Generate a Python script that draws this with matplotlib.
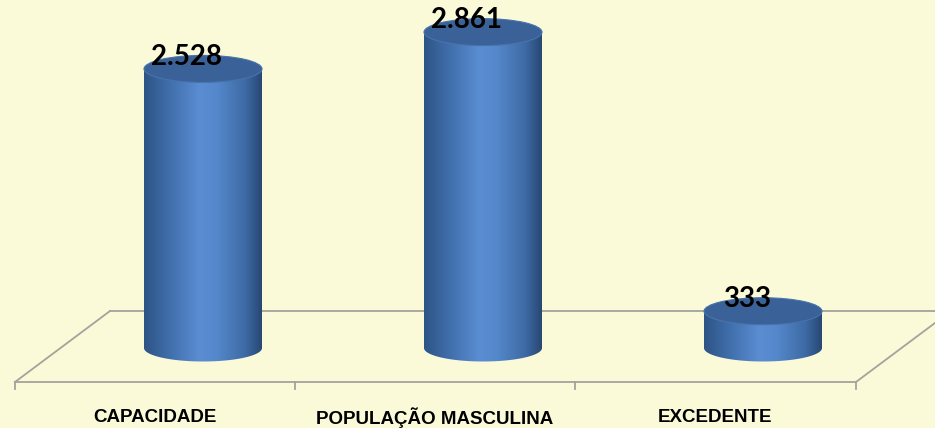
import numpy as np
import matplotlib
matplotlib.use("Agg")
import matplotlib.pyplot as plt
from matplotlib.patches import Ellipse, PathPatch
from matplotlib.path import Path
from matplotlib.colors import LinearSegmentedColormap

categories = ["CAPACIDADE", "POPULAÇÃO MASCULINA", "EXCEDENTE"]
values = [2528, 2861, 333]
value_labels = ["2.528", "2.861", "333"]

W, H = 935, 428
BG = "#FAFAD9"
fig = plt.figure(figsize=(W / 100, H / 100), dpi=100, facecolor=BG)
ax = fig.add_axes([0, 0, 1, 1])
ax.set_xlim(0, W)
ax.set_ylim(H, 0)
ax.axis("off")
ax.set_facecolor(BG)

# value scale (pixels per unit) and floor position
BASE = 348.0
SCALE = 0.1104
def vy(v):
    return BASE - v * SCALE

# floor
gray = "#A3A39C"
floor_front_y, floor_back_y = 382, 311
ax.plot([15, 856], [floor_front_y] * 2, color=gray, lw=1.3)
ax.plot([110, 940], [floor_back_y] * 2, color=gray, lw=1.3)
ax.plot([15, 110], [floor_front_y, floor_back_y], color=gray, lw=1.3)
ax.plot([856, 856 + 95], [floor_front_y, floor_back_y], color=gray, lw=1.3)
for tx in [15, 295, 575, 856]:
    ax.plot([tx, tx], [floor_front_y, 389], color=gray, lw=1.3)

cmap = LinearSegmentedColormap.from_list(
    "cyl",
    [(0.0, "#2D5485"), (0.18, "#3D6AA6"), (0.47, "#5A8DD2"),
     (0.62, "#5488CB"), (0.86, "#3E6AA5"), (1.0, "#284874")])

centers = [155 + 48, 435 + 48, 715 + 48]
bw = 118
ry = 13.5
grad = np.linspace(0, 1, 256).reshape(1, -1)

for i, (c, v) in enumerate(zip(centers, values)):
    x0, x1 = c - bw / 2, c + bw / 2
    yt = vy(v)
    yb = BASE
    t = np.linspace(np.pi, 0, 60)
    bx = c + (bw / 2) * np.cos(t)
    by = yb + ry * np.sin(t)
    verts = [(x0, yt)] + list(zip(bx, by)) + [(x1, yt), (x0, yt)]
    path = Path(verts, closed=True)
    patch = PathPatch(path, facecolor="none", edgecolor="none")
    ax.add_patch(patch)
    im = ax.imshow(grad, cmap=cmap, extent=[x0, x1, yb + ry + 1, yt - 1],
                   aspect="auto", zorder=2)
    im.set_clip_path(patch)
    top = Ellipse((c, yt), bw, 2 * ry, facecolor="#3A6298",
                  edgecolor="#4873AD", lw=0.8, zorder=3)
    ax.add_patch(top)
    ax.text(c - 16, yt - 12, value_labels[i], ha="center", va="center",
            fontsize=20, fontweight="bold", color="black",
            family=["Lato", "DejaVu Sans"], zorder=5)

label_x = [155, 435, 715]
for x, lab in zip(label_x, categories):
    ax.text(x, 418, lab, ha="center", va="center", fontsize=13.5,
            fontweight="bold", color="black",
            family=["Liberation Sans", "DejaVu Sans"])

fig.savefig("out.png", dpi=100, facecolor=BG)
